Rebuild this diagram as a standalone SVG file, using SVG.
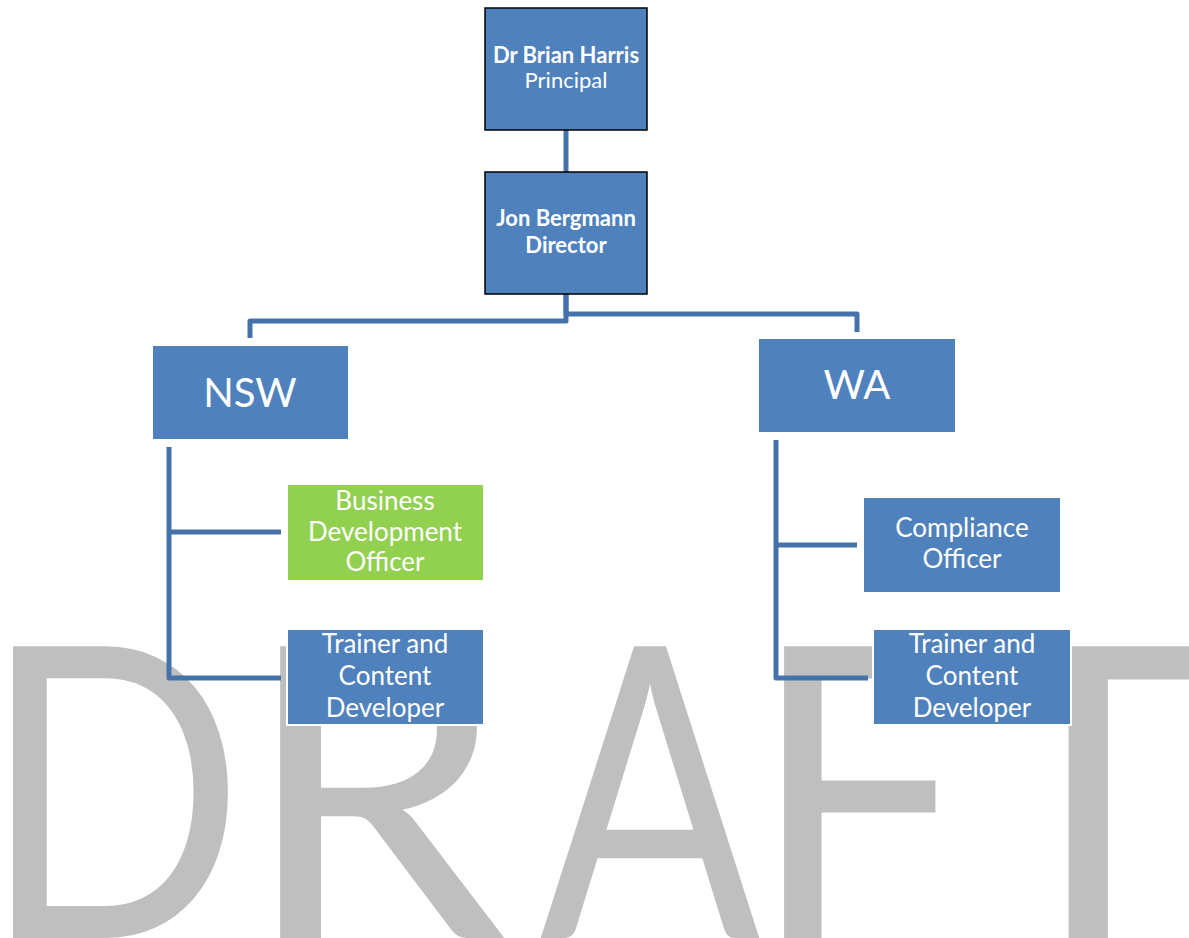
<svg xmlns="http://www.w3.org/2000/svg" width="1189" height="938" viewBox="0 0 1189 938">
<style>
.wm{font-family:Lato,"Open Sans","Liberation Sans",sans-serif;font-size:407px;fill:#BFBFBF;text-anchor:middle}
.con{fill:none;stroke:#4672AB;stroke-width:5;stroke-linejoin:round;stroke-linecap:butt}
.top{fill:#4F81BD;stroke:#000;stroke-width:1.5}
.box{fill:#4F81BD;stroke:#fff;stroke-width:2}
.green{fill:#92D050;stroke:#fff;stroke-width:2}
.t{font-family:Lato,"Open Sans","Liberation Sans",sans-serif;fill:#fff;text-anchor:middle}
.b{font-weight:bold}
.s22{font-size:22px}
.s26{font-size:26px}
.s40{font-size:40px}
</style>
<rect width="1189" height="938" fill="#fff"/>
<g id="watermark">
<text class="wm" transform="translate(113,938) scale(0.85,1)">D</text>
<text class="wm" transform="translate(374,938) scale(1.04,1)">R</text>
<text class="wm" transform="translate(650,938) scale(0.8,1)">A</text>
<text class="wm" transform="translate(858,938) scale(0.95,1)">F</text>
<text class="wm" x="1088" y="938">T</text>
</g>
<g id="connectors">
<path class="con" d="M566,130 V172"/>
<path class="con" d="M566,294 V321 H250 V338"/>
<path class="con" d="M566,294 V314 H857 V332"/>
<path class="con" d="M169,447 V678 H281 M169,532 H281"/>
<path class="con" d="M776,440 V678 H868 M776,545 H857"/>
</g>
<g id="principal">
<rect class="top" x="485" y="8" width="162" height="122"/>
<text class="t s22 b" x="566" y="63">Dr Brian Harris</text>
<text class="t s22" x="566" y="88">Principal</text>
</g>
<g id="director">
<rect class="top" x="485" y="172" width="162" height="122"/>
<text class="t s22 b" x="566" y="226">Jon Bergmann</text>
<text class="t s22 b" x="566" y="253">Director</text>
</g>
<g id="nsw">
<rect class="box" x="152" y="345" width="197" height="95"/>
<text class="t s40" x="250" y="407">NSW</text>
</g>
<g id="wa">
<rect class="box" x="758" y="338" width="198" height="95"/>
<text class="t s40" x="857" y="399">WA</text>
</g>
<g id="bdo">
<rect class="green" x="287" y="484" width="197" height="97"/>
<text class="t s26" x="385" y="510">Business</text>
<text class="t s26" x="385" y="541">Development</text>
<text class="t s26" x="385" y="571">Officer</text>
</g>
<g id="nsw-trainer">
<rect class="box" x="287" y="629" width="197" height="96" stroke-width="3"/>
<text class="t s26" x="385" y="653">Trainer and</text>
<text class="t s26" x="385" y="685">Content</text>
<text class="t s26" x="385" y="717">Developer</text>
</g>
<g id="compliance">
<rect class="box" x="863" y="497" width="198" height="96"/>
<text class="t s26" x="962" y="537">Compliance</text>
<text class="t s26" x="962" y="568">Officer</text>
</g>
<g id="wa-trainer">
<rect class="box" x="873" y="629" width="198" height="96" stroke-width="3"/>
<text class="t s26" x="972" y="653">Trainer and</text>
<text class="t s26" x="972" y="685">Content</text>
<text class="t s26" x="972" y="717">Developer</text>
</g>
</svg>
